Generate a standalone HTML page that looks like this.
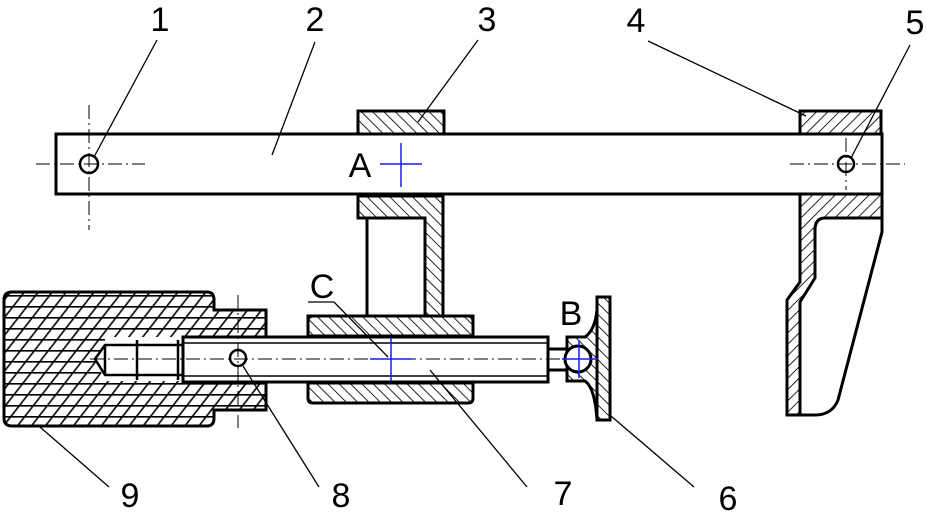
<!DOCTYPE html>
<html><head><meta charset="utf-8"><style>
html,body{margin:0;padding:0;background:#fff;}
svg{display:block;}
text{font-family:"Liberation Sans",sans-serif;}
</style></head><body>
<svg width="926" height="512" viewBox="0 0 926 512" xmlns="http://www.w3.org/2000/svg">
<defs>
<pattern id="hb" width="8" height="8" patternUnits="userSpaceOnUse" patternTransform="rotate(-45)">
<line x1="0" y1="0" x2="0" y2="8" stroke="#000" stroke-width="1.7"/></pattern>
<pattern id="hf" width="8" height="8" patternUnits="userSpaceOnUse" patternTransform="rotate(45)">
<line x1="0" y1="0" x2="0" y2="8" stroke="#000" stroke-width="1.7"/></pattern>
<pattern id="h9h" width="20" height="11" patternUnits="userSpaceOnUse" y="295">
<line x1="0" y1="0.8" x2="20" y2="0.8" stroke="#000" stroke-width="1.6"/></pattern>
<pattern id="h9d" width="11" height="11" patternUnits="userSpaceOnUse" patternTransform="rotate(38)">
<line x1="1" y1="0" x2="1" y2="11" stroke="#000" stroke-width="1.6"/></pattern>
</defs>
<!-- part 9 handle -->
<path id="p9" d="M12,292 H207 Q214,292 214,300 V310 H266 V410 H214 V418 Q214,426 207,426 H12 Q4,426 4,418 V300 Q4,292 12,292 Z" fill="url(#h9h)" stroke="none"/>
<path d="M12,292 H207 Q214,292 214,300 V310 H266 V410 H214 V418 Q214,426 207,426 H12 Q4,426 4,418 V300 Q4,292 12,292 Z" fill="url(#h9d)" stroke="#000" stroke-width="3"/>
<path d="M183,337 V381 H105 L95,359 L105,343 V337 Z" fill="#fff" stroke="none"/>
<g fill="none" stroke="#000" stroke-width="2.5">
<path d="M183,345 H105 L95,359 L105,375 H183"/>
<line x1="105" y1="345" x2="105" y2="375"/>
<line x1="137" y1="340" x2="137" y2="380"/>
<line x1="178" y1="340" x2="178" y2="380"/>
</g>
<!-- part 3 -->
<g stroke="#000" stroke-width="3" fill="url(#hb)">
<rect x="358" y="111" width="86" height="23"/>
<path d="M358,196 H443 V316 H473 V336 H308 V316 H367 V218 H358 Z"/>
<path d="M308,383 H473 V398 Q473,403 468,403 H313 Q308,403 308,398 Z"/>
</g>
<path d="M367,218 H425 V316 H367 Z" fill="#fff" stroke="#000" stroke-width="3"/>
<path d="M308,336 V321 Q308,316 313,316 H468 Q473,316 473,321 V336" fill="none" stroke="#000" stroke-width="3"/>
<!-- part 4 -->
<g stroke="#000" stroke-width="3" fill="url(#hf)">
<rect x="800" y="111" width="81" height="23"/>
<path d="M800,194 H882 V218 H825 Q815,218 815,230 V278 L800,302 V415 H787 V300 L800,282 Z"/>
</g>
<path d="M882,218 V232 L838,400 Q832,415 815,415 H800" fill="none" stroke="#000" stroke-width="3"/>
<!-- bar 2 -->
<rect x="56" y="134" width="826" height="60" fill="#fff" stroke="#000" stroke-width="3"/>
<!-- shaft 7 -->
<rect x="183" y="337" width="365" height="45" fill="#fff" stroke="#000" stroke-width="3"/>
<line x1="183" y1="343" x2="548" y2="343" stroke="#000" stroke-width="1.5"/>
<line x1="183" y1="376" x2="548" y2="376" stroke="#000" stroke-width="1.5"/>
<rect x="548" y="349" width="19" height="21" fill="#fff" stroke="#000" stroke-width="3"/>
<!-- part 6 -->
<path d="M567,337 H585 Q595,330 597,310 V420 Q595,388 585,381 H567 Z" fill="url(#hb)" stroke="#000" stroke-width="3"/>
<rect x="597" y="297" width="13" height="123" fill="url(#hb)" stroke="#000" stroke-width="3"/>
<circle cx="578" cy="359" r="13" fill="#fff" stroke="#000" stroke-width="3"/>
<!-- pins -->
<circle cx="89" cy="164" r="9" fill="#fff" stroke="#000" stroke-width="2.5"/>
<circle cx="846" cy="164" r="8" fill="#fff" stroke="#000" stroke-width="2.5"/>
<circle cx="238" cy="358" r="8" fill="#fff" stroke="#000" stroke-width="2.5"/>
<!-- centerlines -->
<g stroke="#000" stroke-width="1" stroke-dasharray="14,4,2,4" fill="none">
<line x1="36" y1="164" x2="145" y2="164"/>
<line x1="89" y1="105" x2="89" y2="230"/>
<line x1="790" y1="164" x2="905" y2="164"/>
<line x1="846" y1="138" x2="846" y2="190"/>
<line x1="90" y1="359" x2="565" y2="359"/>
<line x1="238" y1="295" x2="238" y2="428"/>
</g>
<!-- leaders -->
<g fill="none" stroke="#000" stroke-width="1.3">
<line x1="157" y1="40" x2="94" y2="157"/>
<line x1="315" y1="42" x2="272" y2="155"/>
<line x1="478" y1="40" x2="418" y2="122"/>
<line x1="648" y1="41" x2="806" y2="116"/>
<line x1="910" y1="45" x2="851" y2="158"/>
<line x1="40" y1="427" x2="109" y2="487"/>
<line x1="243" y1="366" x2="319" y2="487"/>
<line x1="430" y1="370" x2="527" y2="487"/>
<line x1="611" y1="416" x2="694" y2="487"/>
<polyline points="308,302 334,302 388,357"/>
</g>
<!-- blue crosses -->
<g stroke="#1a1aff" stroke-width="1.5">
<line x1="380" y1="164" x2="422" y2="164"/><line x1="401" y1="143" x2="401" y2="187"/>
<line x1="370" y1="359" x2="412" y2="359"/><line x1="391" y1="338" x2="391" y2="381"/>
<line x1="562" y1="359" x2="598" y2="359"/><line x1="579" y1="340" x2="579" y2="378"/>
</g>
<!-- labels -->
<g font-size="34" fill="#000" text-anchor="middle">
<text x="160" y="31">1</text>
<text x="315" y="31">2</text>
<text x="487" y="31">3</text>
<text x="636" y="32">4</text>
<text x="915" y="34">5</text>
<text x="130" y="507">9</text>
<text x="341" y="507">8</text>
<text x="563" y="505">7</text>
<text x="728" y="510">6</text>
<text x="360" y="177">A</text>
<text x="322" y="298">C</text>
<text x="571" y="325">B</text>
</g>
</svg>
</body></html>
